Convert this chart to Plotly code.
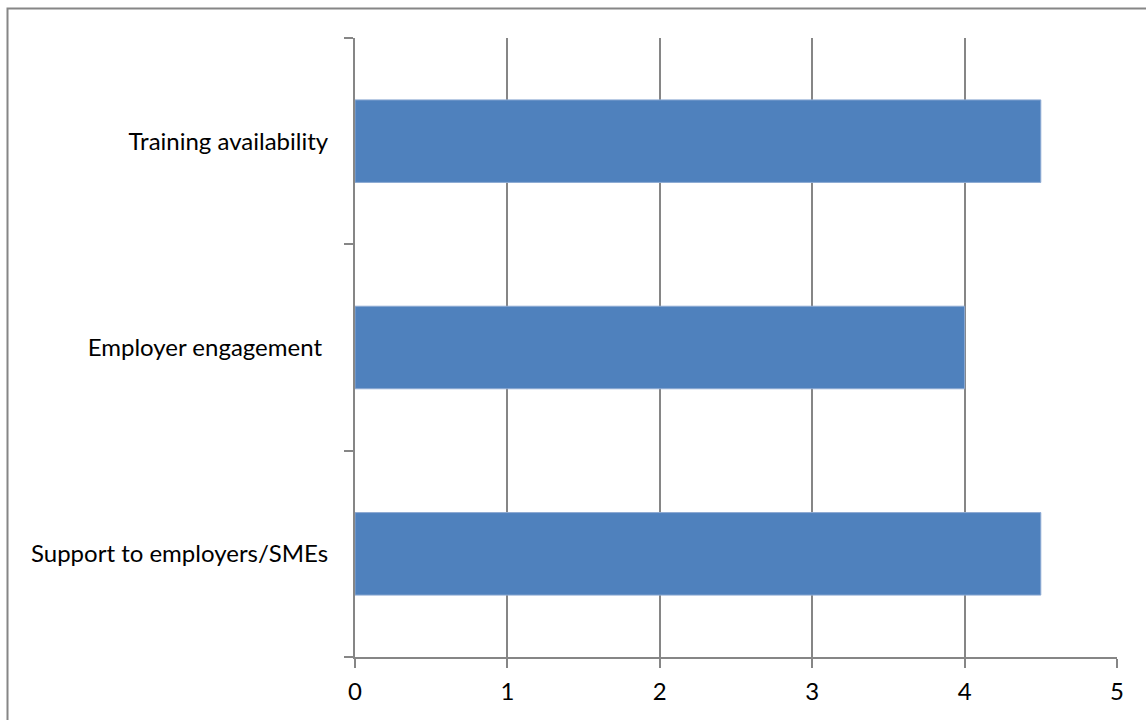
import plotly.graph_objects as go

categories = ["Support to employers/SMEs", "Employer engagement ", "Training availability"]
values = [4.5, 4.0, 4.5]
x_ticks = [0, 1, 2, 3, 4, 5]

W, H = 1146, 720
L, R, T, B = 355, 29, 38, 63
pw = W - L - R
ph = H - T - B

fig = go.Figure(go.Bar(
    y=categories, x=values, orientation="h",
    marker=dict(color="#4F81BD", line=dict(color="#8DAAD3", width=1)),
    width=0.4,
))

grid = "#868686"
font = "Lato, Carlito, Calibri, sans-serif"

fig.update_layout(
    width=W, height=H,
    margin=dict(l=L, r=R, t=T, b=B),
    paper_bgcolor="white", plot_bgcolor="white",
    showlegend=False,
    font=dict(family=font, size=24, color="black"),
    xaxis=dict(
        range=[0, 5], tickvals=x_ticks, ticktext=[str(v) for v in x_ticks],
        showgrid=True, gridcolor=grid, gridwidth=2,
        showline=True, linecolor=grid, linewidth=2,
        ticks="outside", ticklen=9, tickwidth=2, tickcolor=grid,
        ticklabelstandoff=3,
        zeroline=False, fixedrange=True,
    ),
    yaxis=dict(
        categoryorder="array", categoryarray=categories,
        showgrid=False,
        showline=True, linecolor=grid, linewidth=2,
        ticks="outside", ticklen=9, tickwidth=2, tickcolor=grid,
        tickson="boundaries",
        ticklabelstandoff=20,
        fixedrange=True,
    ),
    shapes=[dict(
        type="rect", xref="paper", yref="paper",
        x0=(7.5 - L) / pw, x1=(W + 20 - L) / pw,
        y0=-(B + 20) / ph, y1=(H - B - 8.5) / ph,
        line=dict(color=grid, width=2), fillcolor="rgba(0,0,0,0)",
        layer="below",
    )],
)

fig.write_html("out.html")
